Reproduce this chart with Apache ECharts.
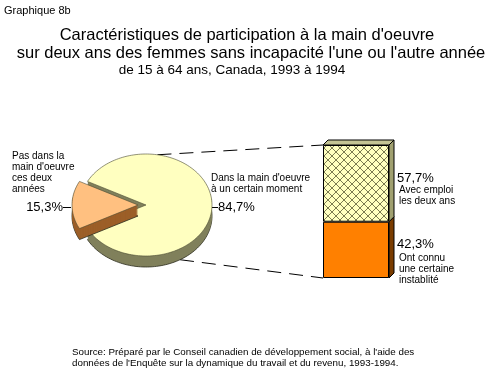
<!DOCTYPE html>
<html><head><meta charset="utf-8">
<script src="https://cdn.jsdelivr.net/npm/echarts@6/dist/echarts.min.js"></script>
<style>html,body{margin:0;padding:0;background:#fff}#c{width:493px;height:371px}</style>
</head><body><div id="c"></div>
<script>
// ---- data ----
const pieCategories = ["Pas dans la\nmain d'oeuvre\nces deux\nannées", "Dans la main d'oeuvre\nà un certain moment"];
const pieValues = [15.3, 84.7];
const barCategories = ["Ont connu\nune certaine\ninstablité", "Avec emploi\nles deux ans"];
const barValues = [42.3, 57.7];

// ---- styles ----
const FONT = "'Liberation Sans', Arial, sans-serif";
const pieTop = ['#FFC080', '#FFFFC0'];
const pieSide = ['#9C5F28', '#80805C'];
const pieExplode = [8, 0];
const pieLayer = [2, 0];
const PIE = {cx: 146, cy: 205, rx: 66, ry: 51, depth: 11};
const barSide = ['#7A3C00', '#A0A070'];
const barTopColor = '#C4C494';
const D = 5;

function fmt(v) { return v.toFixed(1).replace('.', ',') + '%'; }

function hatch() {
  const c = document.createElement('canvas');
  c.width = 8; c.height = 8;
  const g = c.getContext('2d');
  g.fillStyle = '#FFFFC0'; g.fillRect(0, 0, 8, 8);
  g.fillStyle = '#7A7A50';
  for (let i = 0; i < 8; i++) { g.fillRect(i, i, 1, 1); g.fillRect(7 - i, i, 1, 1); }
  return c;
}

const total = pieValues.reduce((a, b) => a + b, 0);
const startDeg = 180 - pieValues[0] / total * 180;

function pieRender(params, api) {
  const i = params.dataIndex;
  const v = api.value(0);
  let a0 = startDeg;
  for (let k = 0; k < i; k++) a0 += pieValues[k] / total * 360;
  const a1 = a0 + v / total * 360;
  const mid = (a0 + a1) / 2 * Math.PI / 180;
  const ex = pieExplode[i];
  const ox = PIE.cx + ex * Math.cos(mid), oy = PIE.cy - ex * Math.sin(mid) * PIE.ry / PIE.rx;
  const pts = [[ox, oy]];
  const n = Math.max(2, Math.ceil((a1 - a0) / 2));
  for (let s = 0; s <= n; s++) {
    const t = (a0 + (a1 - a0) * s / n) * Math.PI / 180;
    pts.push([ox + PIE.rx * Math.cos(t), oy - PIE.ry * Math.sin(t)]);
  }
  const children = [];
  for (let d = PIE.depth; d >= 1; d--) {
    children.push({type: 'polygon', z2: pieLayer[i],
      shape: {points: pts.map(p => [p[0], p[1] + d])},
      style: {fill: pieSide[i], stroke: d === PIE.depth ? '#2A2A1A' : null, lineWidth: 0.8}});
  }
  children.push({type: 'polygon', z2: pieLayer[i] + 1, shape: {points: pts},
    style: {fill: pieTop[i], stroke: '#4A4A30', lineWidth: 0.6}});
  return {type: 'group', children};
}

function barRender(params, api) {
  const i = api.value(3);
  const lo = api.coord([api.value(0), api.value(1)]);
  const hi = api.coord([api.value(0), api.value(2)]);
  const half = api.size([1, 0])[0] / 2;
  const xr = lo[0] + half, xl = lo[0] - half;
  const children = [{type: 'polygon',
    shape: {points: [[xr, hi[1]], [xr + D, hi[1] - D], [xr + D, lo[1] - D], [xr, lo[1]]]},
    style: {fill: barSide[i], stroke: '#000', lineWidth: 1}}];
  if (i === barValues.length - 1) {
    children.push({type: 'polygon',
      shape: {points: [[xl, hi[1]], [xl + D, hi[1] - D], [xr + D, hi[1] - D], [xr, hi[1]]]},
      style: {fill: barTopColor, stroke: '#000', lineWidth: 1}});
  }
  return {type: 'group', children};
}

function txt(text, x, y, size, align) {
  return {type: 'text', silent: true, style: {text, x, y, font: size + 'px ' + FONT, fill: '#000',
    align: align || 'left', verticalAlign: 'middle', textAlign: align || 'left', textVerticalAlign: 'middle', lineHeight: Math.round(size * 1.1)}};
}

const chart = echarts.init(document.getElementById('c'), null, {renderer: 'canvas'});
let cum = 0;
const barSeg = barValues.map((v, i) => { const s = cum; cum += v; return [0, s, s + v, i]; });

chart.setOption({
  animation: false,
  backgroundColor: '#fff',
  grid: {left: 323, top: 145, width: 66, height: 133},
  xAxis: {type: 'category', data: ['total'], show: false},
  yAxis: {type: 'value', min: 0, max: 100, show: false},
  series: [
    {type: 'custom', coordinateSystem: 'none', renderItem: pieRender, silent: true,
      data: pieValues.map(v => [v])},
    {type: 'bar', stack: 's', barWidth: '100%', data: [barValues[0]], silent: true,
      itemStyle: {color: '#FF8000', borderColor: '#000', borderWidth: 1}},
    {type: 'bar', stack: 's', barWidth: '100%', data: [barValues[1]], silent: true,
      itemStyle: {color: {image: hatch(), repeat: 'repeat'}, borderColor: '#000', borderWidth: 1}},
    {type: 'custom', coordinateSystem: 'cartesian2d', renderItem: barRender, silent: true, data: barSeg}
  ]
});

const tl = chart.convertToPixel({gridIndex: 0}, [0, 100]);
const bl = chart.convertToPixel({gridIndex: 0}, [0, 0]);
const half = 33;
const dash = {stroke: '#000', lineWidth: 1, lineDash: [14, 8]};
const topA = 80 * Math.PI / 180, botA = -59 * Math.PI / 180;

chart.setOption({
  graphic: [
    txt('Graphique 8b', 4, 11, 11),
    txt("Caractéristiques de participation à la main d'oeuvre", 247, 35, 16.5, 'center'),
    txt("sur deux ans des femmes sans incapacité l'une ou l'autre année", 251, 53, 16.5, 'center'),
    txt('de 15 à 64 ans, Canada, 1993 à 1994', 232, 70, 13.5, 'center'),
    // pie labels
    txt(pieCategories[0], 12, 173, 10),
    txt(fmt(pieValues[0]), 63, 207, 13, 'right'),
    txt(pieCategories[1], 211, 184, 10),
    txt(fmt(pieValues[1]), 218, 207, 13),
    {type: 'line', silent: true, shape: {x1: 63, y1: 207.5, x2: 71, y2: 207.5}, style: {stroke: '#000', lineWidth: 1}},
    {type: 'line', silent: true, shape: {x1: 211, y1: 207.5, x2: 218, y2: 207.5}, style: {stroke: '#000', lineWidth: 1}},
    // bar labels
    txt(fmt(barValues[1]), 397, 178, 13),
    txt(barCategories[1], 399, 196, 10),
    txt(fmt(barValues[0]), 397, 244, 13),
    txt(barCategories[0], 399, 269, 10),
    // connectors
    {type: 'line', silent: true, shape: {x1: PIE.cx + PIE.rx * Math.cos(topA), y1: PIE.cy - PIE.ry * Math.sin(topA), x2: tl[0] - half, y2: tl[1]}, style: dash},
    {type: 'line', silent: true, shape: {x1: PIE.cx + PIE.rx * Math.cos(botA), y1: PIE.cy - PIE.ry * Math.sin(botA) + PIE.depth, x2: bl[0] - half, y2: bl[1]}, style: dash},
    // source
    txt("Source: Préparé par le Conseil canadien de développement social, à l'aide des", 72, 352, 9.8),
    txt("données de l'Enquête sur la dynamique du travail et du revenu, 1993-1994.", 72, 363, 9.8)
  ]
});
</script></body></html>
